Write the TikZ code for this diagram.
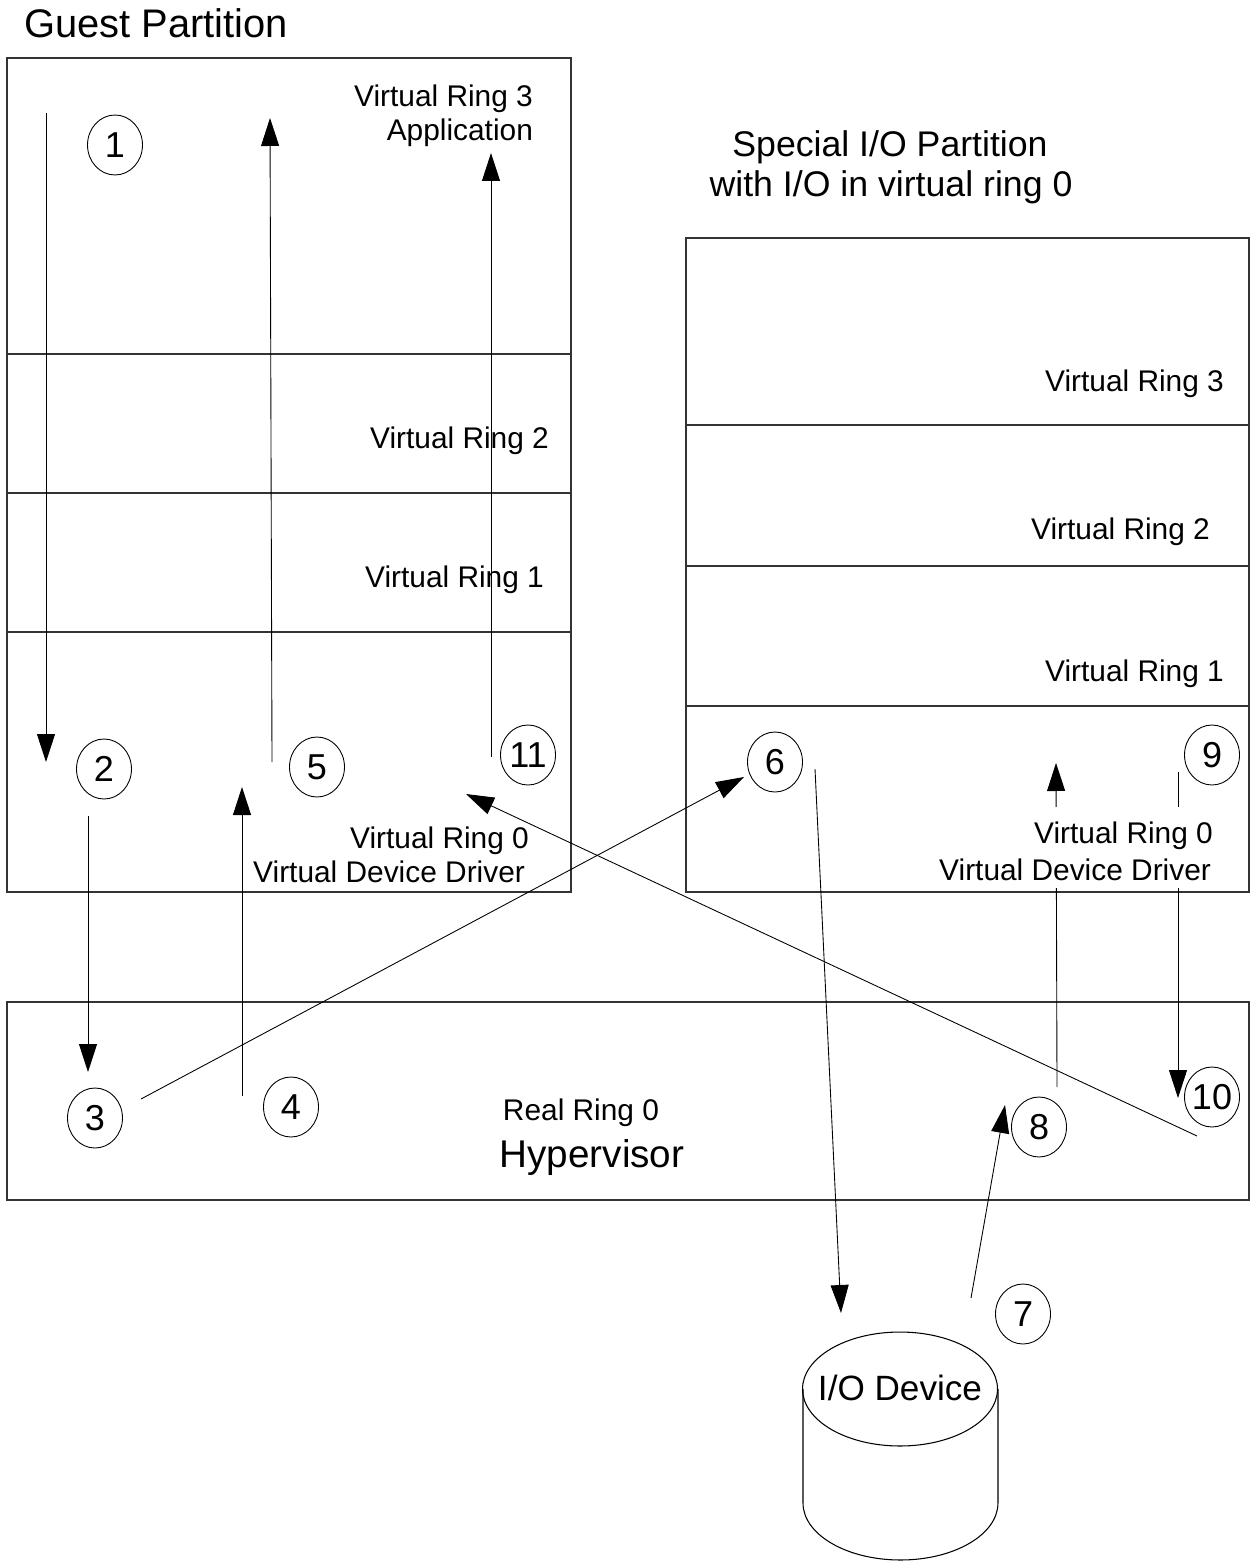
\documentclass[tikz,border=0pt]{standalone}
\usepackage{fontspec}
\setmainfont{Liberation Sans}
\usetikzlibrary{arrows.meta, shapes.geometric}

\begin{document}
\begin{tikzpicture}[
    x=0.02cm, y=-0.02cm,
    partbox/.style={draw=black!80, line width=0.8pt},
    ringlbl/.style={font=\fontsize{17}{20}\selectfont, inner sep=1pt, anchor=base east},
    titlelbl/.style={font=\fontsize{20.3}{24}\selectfont, inner sep=1pt, anchor=base},
    numlbl/.style={draw, ellipse, line width=0.5pt, minimum width=1.1cm, minimum height=1.2cm, inner sep=-2.5pt, font=\fontsize{20.5}{20.5}\selectfont},
    flow/.style={-{Triangle[length=0.56cm, width=0.36cm]}, line width=0.5pt}
  ]
  \useasboundingbox (0,0) rectangle (1250,1561);

  % guest partition
  \draw[partbox] (7,58) rectangle (571,892);
  \draw[partbox] (7,354) -- (571,354) (7,493) -- (571,493) (7,632) -- (571,632);
  \node[titlelbl, anchor=base west, font=\fontsize{22.7}{26}\selectfont] (guest) at (22,38) {Guest Partition};
  \node[ringlbl] (g3) at (535,107) {Virtual Ring 3};
  \node[ringlbl] (gapp) at (535,141) {Application};
  \node[ringlbl] (g2) at (551,448) {Virtual Ring 2};
  \node[ringlbl] (g1) at (546,587) {Virtual Ring 1};
  \node[ringlbl] (g0) at (531,848) {Virtual Ring 0};
  \node[ringlbl] (gdrv) at (527,882) {Virtual Device Driver};

  % special i/o partition
  \draw[partbox] (686,238) rectangle (1249,892);
  \draw[partbox] (686,425) -- (1249,425) (686,566) -- (1249,566) (686,706) -- (1249,706);
  \node[titlelbl] (iopart) at (890,157) {Special I/O Partition};
  \node[titlelbl] (iopart2) at (891,196) {with I/O in virtual ring 0};
  \node[ringlbl] (s3) at (1226,391) {Virtual Ring 3};
  \node[ringlbl] (s2) at (1212,539) {Virtual Ring 2};
  \node[ringlbl] (s1) at (1226,681) {Virtual Ring 1};

  % hypervisor
  \draw[partbox] (7,1002) rectangle (1249,1200);
  \node[ringlbl, anchor=base] (real) at (581,1120) {Real Ring 0};
  \node[titlelbl, font=\fontsize{22}{26}\selectfont] (hyper) at (592,1167) {Hypervisor};

  % i/o device
  \draw[line width=0.6pt] (900,1389) ellipse [x radius=1.95cm, y radius=1.14cm];
  \draw[line width=0.6pt] (803,1389) -- (803,1503) arc[start angle=180, end angle=360, x radius=1.95cm, y radius=1.14cm] -- (998,1389);
  \node[titlelbl, font=\fontsize{20}{24}\selectfont] (dev) at (900,1400) {I/O Device};

  % steps
  \node[numlbl] (n1) at (115,145) {1};
  \node[numlbl] (n2) at (104,769) {2};
  \node[numlbl] (n3) at (95,1118) {3};
  \node[numlbl] (n4) at (291,1107) {4};
  \node[numlbl] (n5) at (317,767) {5};
  \node[numlbl] (n6) at (775,762) {6};
  \node[numlbl] (n7) at (1023,1314) {7};
  \node[numlbl] (n8) at (1039,1127) {8};
  \node[numlbl] (n9) at (1212,755) {9};
  \node[numlbl] (n10) at (1212,1097) {10};
  \node[numlbl] (n11) at (528,755) {11};

  % flow ends
  \coordinate (a1s) at (46,113);   \coordinate (a1e) at (46,762);
  \coordinate (a2s) at (88,816);   \coordinate (a2e) at (88,1072);
  \coordinate (a3s) at (141,1099); \coordinate (a3e) at (744,777);
  \coordinate (a4s) at (242,1096); \coordinate (a4e) at (242,787);
  \coordinate (a5s) at (272,762);  \coordinate (a5e) at (270,118);
  \coordinate (a6s) at (815,769);  \coordinate (a6e) at (841,1313);
  \coordinate (a7s) at (971,1298); \coordinate (a7e) at (1005,1105);
  \coordinate (a8s) at (1057,1087); \coordinate (a8e) at (1056,763);
  \coordinate (a9s) at (1178,772); \coordinate (a9e) at (1178,1098);
  \coordinate (a10s) at (1197,1136); \coordinate (a10e) at (466,794);
  \coordinate (a11s) at (491,757); \coordinate (a11e) at (491,153);

  \draw[flow] (a1s) -- (a1e);
  \draw[flow] (a2s) -- (a2e);
  \draw[flow] (a3s) -- (a3e);
  \draw[flow] (a4s) -- (a4e);
  \draw[flow] (a5s) -- (a5e);
  \draw[flow] (a6s) -- (a6e);
  \draw[flow] (a7s) -- (a7e);
  \draw[flow] (a8s) -- (a8e);
  \draw[flow] (a9s) -- (a9e);
  \draw[flow] (a10s) -- (a10e);
  \draw[flow] (a11s) -- (a11e);

  % driver text sits over the lines 8 and 9
  \node[ringlbl, fill=white, inner ysep=8pt] (s0) at (1215,843) {Virtual Ring 0};
  \node[ringlbl, fill=white, inner ysep=4.5pt] (sdrv) at (1213,880) {Virtual Device Driver};
\end{tikzpicture}
\end{document}
